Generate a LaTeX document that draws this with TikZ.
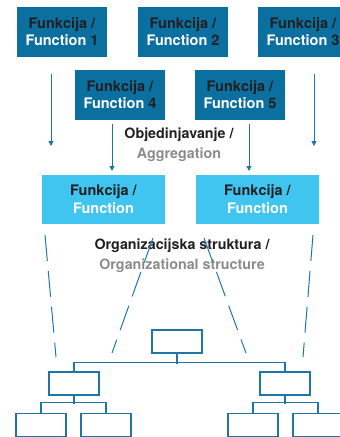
\documentclass[tikz,border=0pt]{standalone}
\usepackage{fontspec}
\setmainfont{TeX Gyre Heros}
\usetikzlibrary{arrows.meta}
\definecolor{darkbox}{HTML}{0B70A0}
\definecolor{lightbox}{HTML}{40C4F0}
\definecolor{linec}{HTML}{1F76A6}
\definecolor{txtdark}{HTML}{231F20}
\definecolor{txtgray}{HTML}{8C8C8C}
\begin{document}
\begin{tikzpicture}[x=1pt,y=-1pt,
  fnbox/.style={fill=darkbox,minimum width=90pt,minimum height=50pt,inner sep=0pt,align=center,font=\fontsize{14.5}{17}\selectfont\bfseries},
  aggbox/.style={fill=lightbox,minimum width=123pt,minimum height=49pt,inner sep=0pt,align=center,font=\fontsize{14.5}{18}\selectfont\bfseries},
  lbl/.style={align=center,font=\fontsize{14.3}{20}\selectfont\bfseries},
  arr/.style={draw=linec,line width=1pt,-{Triangle[length=5pt,width=5pt]}},
  dsh/.style={draw=linec,line width=1pt,dash pattern=on 26pt off 10pt},
  ob/.style={draw=linec,line width=1.3pt,minimum width=50pt,minimum height=23pt,inner sep=0pt},
  ol/.style={draw=linec,line width=1.2pt}]
\useasboundingbox (0,0) rectangle (340,437);
\begin{scope}
\clip (0,0) rectangle (340,437);
% top function boxes
\node[fnbox] (f1) at (62,32) {\textcolor{txtdark}{Funkcija /}\\\textcolor{white}{Function} \textcolor{txtdark}{1}};
\node[fnbox] (f2) at (183,32) {\textcolor{txtdark}{Funkcija /}\\\textcolor{white}{Function} \textcolor{txtdark}{2}};
\node[fnbox] (f3) at (303,32) {\textcolor{txtdark}{Funkcija /}\\\textcolor{white}{Function} \textcolor{txtdark}{3}};
\node[fnbox] (f4) at (120,95) {\textcolor{txtdark}{Funkcija /}\\\textcolor{white}{Function} \textcolor{txtdark}{4}};
\node[fnbox] (f5) at (240,95) {\textcolor{txtdark}{Funkcija /}\\\textcolor{white}{Function} \textcolor{txtdark}{5}};
% aggregation label
\node[lbl] (agg) at (179,145) {\textcolor{txtdark}{Objedinjavanje /}\\\textcolor{txtgray}{Aggregation}};
% aggregated boxes
\node[aggbox] (a1) at (103.5,199.5) {\textcolor{txtdark}{Funkcija /}\\\textcolor{white}{Function}};
\node[aggbox] (a2) at (257.5,199.5) {\textcolor{txtdark}{Funkcija /}\\\textcolor{white}{Function}};
% arrows
\coordinate (s1) at (51,74); \coordinate (e1) at (51,146);
\coordinate (s3) at (314,74); \coordinate (e3) at (314,146);
\coordinate (t4) at (112,124); \coordinate (b4) at (112,171);
\coordinate (t5) at (249,124); \coordinate (b5) at (249,171);
\draw[arr] (s1) -- (e1);
\draw[arr] (s3) -- (e3);
\draw[arr] (t4) -- (b4);
\draw[arr] (t5) -- (b5);
% org structure label
\node[lbl] (org) at (182,256) {\textcolor{txtdark}{Organizacijska struktura /}\\\textcolor{txtgray}{Organizational structure}};
% dashed lines
\coordinate (d1a) at (45,235); \coordinate (d1b) at (56,357);
\coordinate (d2a) at (153,238); \coordinate (d2b) at (112,353);
\coordinate (d3a) at (204,238); \coordinate (d3b) at (246,353);
\coordinate (d4a) at (313,235); \coordinate (d4b) at (303,357);
\draw[dsh] (d1a) -- (d1b);
\draw[dsh] (d2a) -- (d2b);
\draw[dsh] (d3a) -- (d3b);
\draw[dsh] (d4a) -- (d4b);
% org chart
\node[ob] (o0) at (177,341.5) {};
\node[ob] (o1) at (74,383.5) {};
\node[ob] (o2) at (285,383.5) {};
\node[ob] (o11) at (41,425) {};
\node[ob] (o12) at (106,425) {};
\node[ob] (o21) at (253,425) {};
\node[ob] (o22) at (318,425) {};
\draw[ol] (o0.south) -- ++(0,10);
\draw[ol] (o1.north) -- ++(0,-9) -| (o2.north);
\draw[ol] (o1.south) -- ++(0,8);
\draw[ol] (o11.north) -- ++(0,-10) -| (o12.north);
\draw[ol] (o2.south) -- ++(0,8);
\draw[ol] (o21.north) -- ++(0,-10) -| (o22.north);
\end{scope}
\end{tikzpicture}
\end{document}
